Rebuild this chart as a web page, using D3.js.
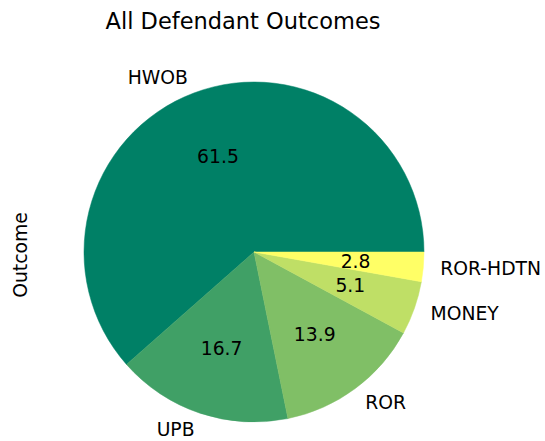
<!DOCTYPE html>
<html>
<head>
<meta charset="utf-8">
<script src="https://cdn.jsdelivr.net/npm/d3@7"></script>
<style>
  body { margin: 0; background: #fff; }
  svg { display: block; font-family: "DejaVu Sans", sans-serif; }
</style>
</head>
<body>
<div id="chart"></div>
<script>
// data
const outcomes = ["HWOB", "UPB", "ROR", "MONEY", "ROR-HDTN"];
const percents = [61.5, 16.7, 13.9, 5.1, 2.8];
const sliceColors = ["#008066", "#40a066", "#80bf66", "#bfdf66", "#ffff66"];

const width = 545, height = 441;
const cx = 254, cy = 252, radius = 170;

const svg = d3.select("#chart").append("svg")
  .attr("width", width)
  .attr("height", height);

// title
svg.append("text")
  .attr("x", 243)
  .attr("y", 29)
  .attr("text-anchor", "middle")
  .attr("font-size", "22.5px")
  .attr("fill", "#000")
  .text("All Defendant Outcomes");

// y label
svg.append("text")
  .attr("transform", `translate(27,${cy + 3})rotate(-90)`)
  .attr("text-anchor", "middle")
  .attr("font-size", "18.75px")
  .attr("fill", "#000")
  .text("Outcome");

const color = d3.scaleOrdinal().domain(outcomes).range(sliceColors);

// matplotlib style: start at 3 o'clock, go counterclockwise
const pie = d3.pie()
  .sort(null)
  .value((d, i) => percents[i])
  .startAngle(Math.PI / 2)
  .endAngle(Math.PI / 2 - 2 * Math.PI);

const arcs = pie(outcomes);

const arc = d3.arc().innerRadius(0).outerRadius(radius);
const labelArc = d3.arc().innerRadius(radius * 1.1).outerRadius(radius * 1.1);
const pctArc = d3.arc().innerRadius(radius * 0.6).outerRadius(radius * 0.6);

const g = svg.append("g").attr("transform", `translate(${cx},${cy})`);

g.selectAll("path.slice")
  .data(arcs)
  .enter().append("path")
  .attr("class", "slice")
  .attr("d", arc)
  .attr("fill", d => color(d.data))
  .attr("stroke", d => color(d.data))
  .attr("stroke-width", 0.5);

// outer labels
g.selectAll("text.label")
  .data(arcs)
  .enter().append("text")
  .attr("class", "label")
  .attr("x", d => labelArc.centroid(d)[0])
  .attr("y", d => labelArc.centroid(d)[1])
  .attr("dy", "0.35em")
  .attr("text-anchor", d => labelArc.centroid(d)[0] < 0 ? "end" : "start")
  .attr("font-size", "18.75px")
  .attr("fill", "#000")
  .text(d => d.data);

// percent labels
g.selectAll("text.pct")
  .data(arcs)
  .enter().append("text")
  .attr("class", "pct")
  .attr("x", d => pctArc.centroid(d)[0])
  .attr("y", d => pctArc.centroid(d)[1])
  .attr("dy", "0.35em")
  .attr("text-anchor", "middle")
  .attr("font-size", "18.75px")
  .attr("fill", "#000")
  .text(d => d.value.toFixed(1));
</script>
</body>
</html>
